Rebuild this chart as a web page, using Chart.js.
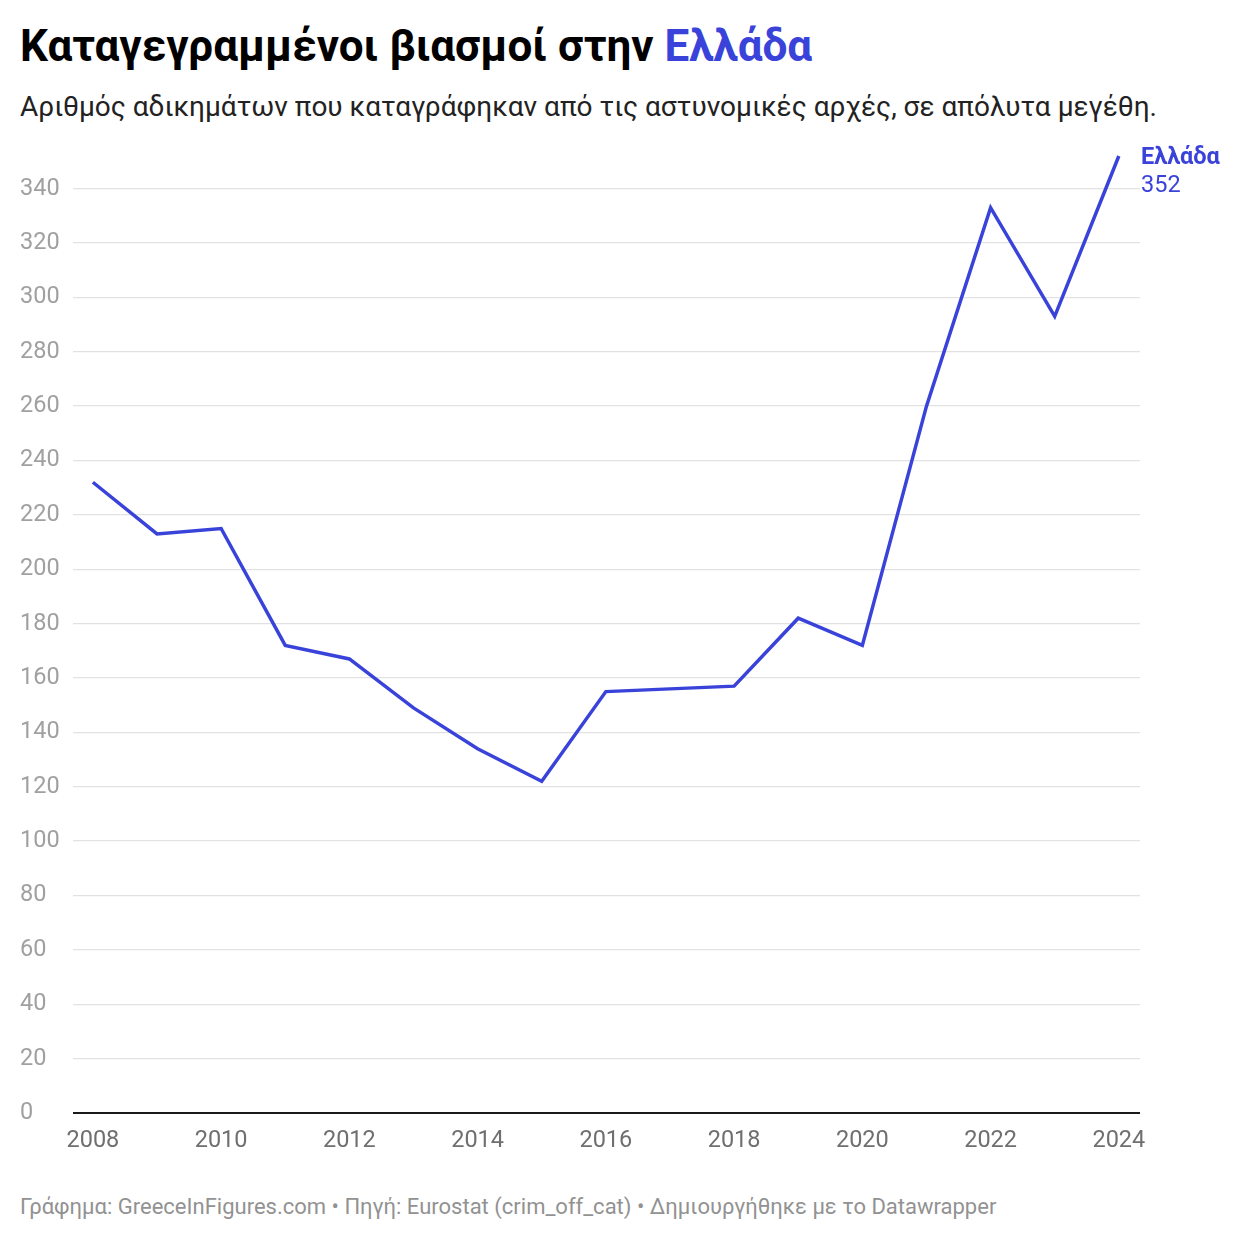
<!DOCTYPE html>
<html lang="el">
<head>
<meta charset="utf-8">
<title>Καταγεγραμμένοι βιασμοί στην Ελλάδα</title>
<script src="https://cdn.jsdelivr.net/npm/chart.js@4.4.1/dist/chart.umd.min.js"></script>
<style>
  html, body { margin: 0; padding: 0; background: #fff; }
  body { width: 1240px; height: 1240px; position: relative; font-family: Roboto, "Noto Sans", sans-serif; overflow: hidden; }
  h1, p { line-height: normal; white-space: nowrap; }
  h1 { position: absolute; left: 20px; top: 20px; margin: 0; font-size: 44px; font-weight: 700; color: #000; }
  h1 span { color: #3a43d9; }
  .sub { position: absolute; left: 20px; top: 90px; margin: 0; font-size: 28px; color: #222; }
  .foot { position: absolute; left: 20px; top: 1194px; margin: 0; font-size: 22px; color: #929292; }
  #wrap { position: absolute; left: 0; top: 130px; width: 1240px; height: 1050px; }
</style>
</head>
<body>
<h1>Καταγεγραμμένοι βιασμοί στην <span>Ελλάδα</span></h1>
<p class="sub">Αριθμός αδικημάτων που καταγράφηκαν από τις αστυνομικές αρχές, σε απόλυτα μεγέθη.</p>
<div id="wrap"><canvas id="grafico"></canvas></div>
<p class="foot">Γράφημα: GreeceInFigures.com • Πηγή: Eurostat (crim_off_cat) • Δημιουργήθηκε με το Datawrapper</p>

<script>
const anos = [2008, 2009, 2010, 2011, 2012, 2013, 2014, 2015, 2016, 2017, 2018, 2019, 2020, 2021, 2022, 2023, 2024];
const valores = [232, 213, 215, 172, 167, 149, 134, 122, 155, 156, 157, 182, 172, 260, 333, 293, 352];
const ticksX = [2008, 2010, 2012, 2014, 2016, 2018, 2020, 2022, 2024];
const ticksY = [0, 20, 40, 60, 80, 100, 120, 140, 160, 180, 200, 220, 240, 260, 280, 300, 320, 340];
const nomeSerie = "Ελλάδα";

const azul = "#3a43d9";

// rótulo no fim da linha
const rotuloFinal = {
  id: "rotuloFinal",
  afterDatasetsDraw(chart) {
    const meta = chart.getDatasetMeta(0);
    const ultimo = meta.data[meta.data.length - 1];
    const ctx = chart.ctx;
    ctx.save();
    ctx.fillStyle = azul;
    ctx.textAlign = "left";
    ctx.textBaseline = "middle";
    ctx.font = "bold 23.5px Roboto";
    ctx.fillText(nomeSerie, chart.chartArea.right + 1, ultimo.y + 2);
    ctx.font = "23.5px Roboto";
    ctx.fillText(String(valores[valores.length - 1]), chart.chartArea.right + 1, ultimo.y + 30);
    ctx.restore();
  },
};

new Chart(document.getElementById("grafico"), {
  type: "line",
  data: {
    datasets: [
      {
        label: nomeSerie,
        data: anos.map((a, i) => ({ x: a, y: valores[i] })),
        borderColor: azul,
        borderWidth: 3.5,
        pointRadius: 0,
        tension: 0,
        clip: false,
      },
    ],
  },
  options: {
    responsive: true,
    maintainAspectRatio: false,
    animation: false,
    layout: { padding: { left: 20, right: 100, top: 26, bottom: 0 } },
    plugins: { legend: { display: false }, tooltip: { enabled: false } },
    scales: {
      x: {
        type: "linear",
        min: 2007.69,
        max: 2024.33,
        afterBuildTicks: (scale) => {
          scale.ticks = ticksX.map((v) => ({ value: v }));
        },
        afterFit: (scale) => {
          scale.height = 67;
        },
        grid: { display: false, drawTicks: false },
        border: { display: false },
        ticks: {
          padding: 14,
          color: "#6f6f6f",
          font: { family: "Roboto", size: 23.5 },
          callback: (v) => String(v),
          maxRotation: 0,
        },
      },
      y: {
        min: 0,
        max: 352,
        afterBuildTicks: (scale) => {
          scale.ticks = ticksY.map((v) => ({ value: v }));
        },
        afterFit: (scale) => {
          scale.width = 53;
        },
        grid: {
          drawTicks: false,
          color: (c) => (c.tick && c.tick.value === 0 ? "#1a1a1a" : "#e2e2e2"),
          lineWidth: (c) => (c.tick && c.tick.value === 0 ? 2 : 1.3),
        },
        border: { display: false },
        ticks: {
          crossAlign: "far",
          padding: 0,
          color: "#a0a0a0",
          font: { family: "Roboto", size: 23.5 },
        },
      },
    },
  },
  plugins: [rotuloFinal],
});
</script>
</body>
</html>
